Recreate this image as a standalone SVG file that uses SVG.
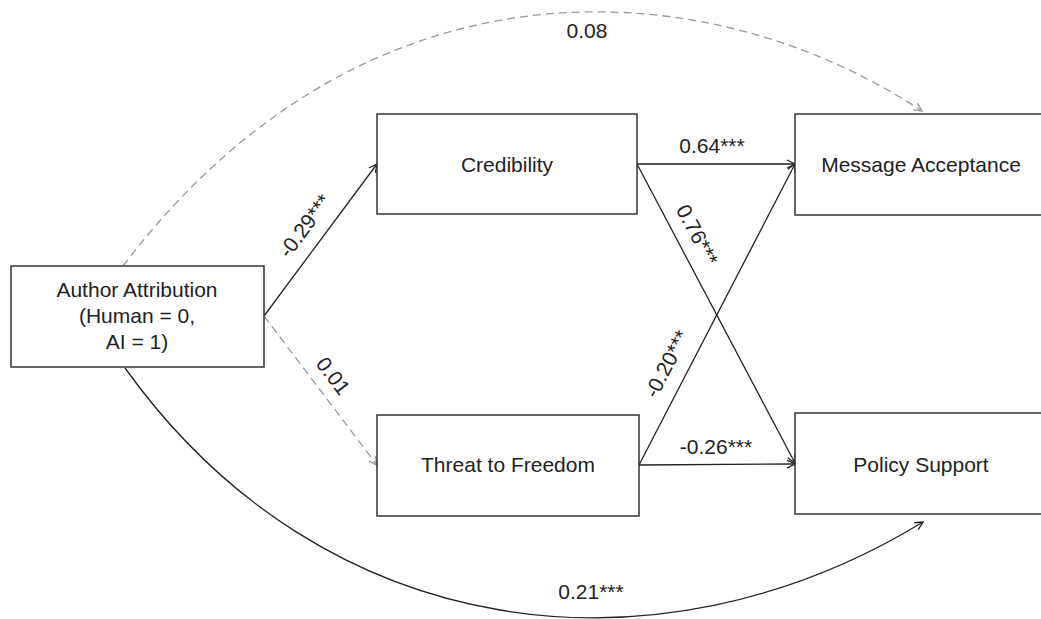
<svg xmlns="http://www.w3.org/2000/svg" width="1041" height="619" viewBox="0 0 1041 619">
<style>
.box{fill:#fff;stroke:#333;stroke-width:1.5}
.t{font-family:"Liberation Sans",Arial,sans-serif;font-size:21px;fill:#222;text-anchor:middle}
.solid{fill:none;stroke:#222;stroke-width:1.3}
.dash{fill:none;stroke:#999;stroke-width:1.3;stroke-dasharray:8 5}
</style>
<defs>
<marker id="ah" markerUnits="userSpaceOnUse" markerWidth="12" markerHeight="12" viewBox="0 0 12 12" refX="10" refY="6" orient="auto">
<path d="M2,2 L10,6 L2,10" fill="none" stroke="#222" stroke-width="1.3"/>
</marker>
<marker id="ahg" markerUnits="userSpaceOnUse" markerWidth="12" markerHeight="12" viewBox="0 0 12 12" refX="10" refY="6" orient="auto">
<path d="M2,2 L10,6 L2,10" fill="none" stroke="#999" stroke-width="1.3"/>
</marker>
</defs>
<rect width="1041" height="619" fill="#fff"/>
<g id="connectors">
<path class="dash" d="M123,266 C364,-52 705,-32 922,111" marker-end="url(#ahg)"/>
<path class="solid" d="M125,368 C325,647 659,683 923,522" marker-end="url(#ah)"/>
<line class="solid" x1="264" y1="316" x2="377" y2="164" marker-end="url(#ah)"/>
<line class="dash" x1="264" y1="316" x2="377" y2="465" marker-end="url(#ahg)"/>
<line class="solid" x1="637" y1="164" x2="795" y2="164" marker-end="url(#ah)"/>
<line class="solid" x1="637" y1="164" x2="795" y2="463" marker-end="url(#ah)"/>
<line class="solid" x1="639" y1="465" x2="795" y2="164" marker-end="url(#ah)"/>
<line class="solid" x1="639" y1="465" x2="795" y2="464" marker-end="url(#ah)"/>
<text class="t" x="587" y="38">0.08</text>
<text class="t" x="591" y="599">0.21***</text>
<text class="t" x="712" y="153">0.64***</text>
<text class="t" x="716" y="454">-0.26***</text>
<text class="t" transform="translate(305,226) rotate(-53.4)" y="7">-0.29***</text>
<text class="t" transform="translate(333,376) rotate(52.8)" y="7">0.01</text>
<text class="t" transform="translate(697,235) rotate(62.1)" y="7">0.76***</text>
<text class="t" transform="translate(667,364) rotate(-62.5)" y="7">-0.20***</text>
</g>
<g id="author">
<rect class="box" x="11" y="266" width="253" height="101"/>
<text class="t" x="137" y="297">Author Attribution</text>
<text class="t" x="137" y="323">(Human = 0,</text>
<text class="t" x="137" y="349">AI = 1)</text>
</g>
<g id="credibility">
<rect class="box" x="377" y="114" width="260" height="100"/>
<text class="t" x="507" y="172">Credibility</text>
</g>
<g id="threat">
<rect class="box" x="377" y="415" width="262" height="101"/>
<text class="t" x="508" y="472">Threat to Freedom</text>
</g>
<g id="acceptance">
<rect class="box" x="795" y="114" width="252" height="101"/>
<text class="t" x="921" y="172">Message Acceptance</text>
</g>
<g id="policy">
<rect class="box" x="795" y="413" width="252" height="101"/>
<text class="t" x="921" y="472">Policy Support</text>
</g>
</svg>
